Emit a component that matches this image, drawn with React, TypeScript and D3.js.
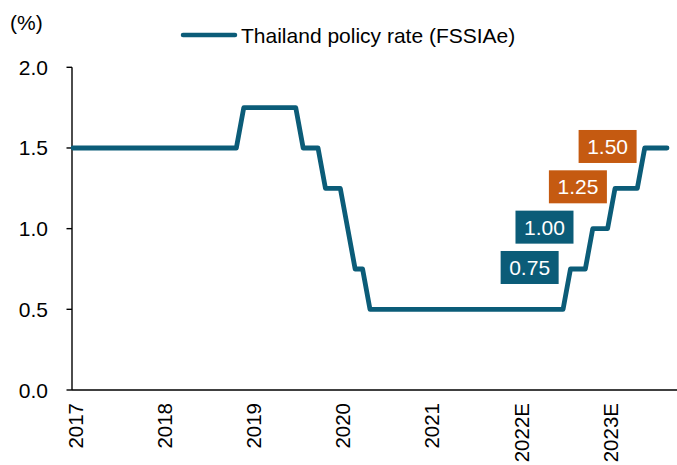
import { scaleLinear, line as d3line } from "d3";

// monthly policy rate, Jan 2017 .. Sep 2023
const rates = [
  // 2017
  1.5, 1.5, 1.5, 1.5, 1.5, 1.5, 1.5, 1.5, 1.5, 1.5, 1.5, 1.5,
  // 2018
  1.5, 1.5, 1.5, 1.5, 1.5, 1.5, 1.5, 1.5, 1.5, 1.5, 1.5, 1.75,
  // 2019
  1.75, 1.75, 1.75, 1.75, 1.75, 1.75, 1.75, 1.5, 1.5, 1.5, 1.25, 1.25,
  // 2020
  1.25, 1.0, 0.75, 0.75, 0.5, 0.5, 0.5, 0.5, 0.5, 0.5, 0.5, 0.5,
  // 2021
  0.5, 0.5, 0.5, 0.5, 0.5, 0.5, 0.5, 0.5, 0.5, 0.5, 0.5, 0.5,
  // 2022E
  0.5, 0.5, 0.5, 0.5, 0.5, 0.5, 0.5, 0.75, 0.75, 0.75, 1.0, 1.0,
  // 2023E
  1.0, 1.25, 1.25, 1.25, 1.25, 1.5, 1.5, 1.5, 1.5,
];

const yearLabels = ["2017", "2018", "2019", "2020", "2021", "2022E", "2023E"];
const yTicks = [0, 0.5, 1.0, 1.5, 2.0];

// callout boxes: value, text, colour, month position of box centre
const calloutValues = [0.75, 1.0, 1.25, 1.5];
const calloutTexts = ["0.75", "1.00", "1.25", "1.50"];
const calloutColors = ["#0B5C78", "#0B5C78", "#C55A11", "#C55A11"];
const calloutMonths = [61.5, 63.5, 68, 72];

const TEAL = "#0B5C78";
const FONT = "'Liberation Sans', Arial, sans-serif";

export default function App() {
  const x = scaleLinear().domain([0, rates.length - 1]).range([73, 667]);
  const y = scaleLinear().domain([0, 2]).range([390, 67.3]);

  const path = d3line<number>()
    .x((_, i) => x(i))
    .y((d) => y(d))(rates) ?? undefined;

  return (
    <svg
      width={677}
      height={465}
      style={{ position: "absolute", left: 0, top: 0, background: "#fff", fontFamily: FONT }}
    >
      {/* unit */}
      <text x={10} y={22} fontSize={21} dominantBaseline="central" fill="#000">(%)</text>

      {/* legend */}
      <line x1={183} x2={235} y1={35} y2={35} stroke={TEAL} strokeWidth={4.5} strokeLinecap="round" />
      <text x={241} y={35} fontSize={21} dominantBaseline="central" fill="#000">
        Thailand policy rate (FSSIAe)
      </text>

      {/* y axis */}
      <line x1={72} x2={72} y1={y(2)} y2={y(0)} stroke="#000" strokeWidth={1.4} />
      {yTicks.map((t) => (
        <g key={t}>
          <line x1={66.5} x2={72} y1={y(t)} y2={y(t)} stroke="#000" strokeWidth={1.4} />
          <text x={48} y={y(t)} fontSize={21} textAnchor="end" dominantBaseline="central" fill="#000">
            {t.toFixed(1)}
          </text>
        </g>
      ))}

      {/* x axis */}
      <line x1={72} x2={677} y1={y(0)} y2={y(0)} stroke="#000" strokeWidth={1.4} />
      {yearLabels.map((lab, i) => (
        <text
          key={lab}
          transform={`translate(${x(i * 12) + 2.5},403) rotate(-90)`}
          fontSize={20.5}
          textAnchor="end"
          dominantBaseline="central"
          fill="#000"
        >
          {lab}
        </text>
      ))}

      {/* series */}
      <path d={path} fill="none" stroke={TEAL} strokeWidth={4.8} strokeLinejoin="round" strokeLinecap="round" />

      {/* callouts */}
      {calloutValues.map((v, i) => {
        const cx = x(calloutMonths[i]);
        const cy = y(v) - 1.5;
        return (
          <g key={calloutTexts[i]}>
            <rect x={cx - 29} y={cy - 16.5} width={58} height={33} fill={calloutColors[i]} />
            <text x={cx} y={cy} fontSize={21} textAnchor="middle" dominantBaseline="central" fill="#fff">
              {calloutTexts[i]}
            </text>
          </g>
        );
      })}
    </svg>
  );
}
